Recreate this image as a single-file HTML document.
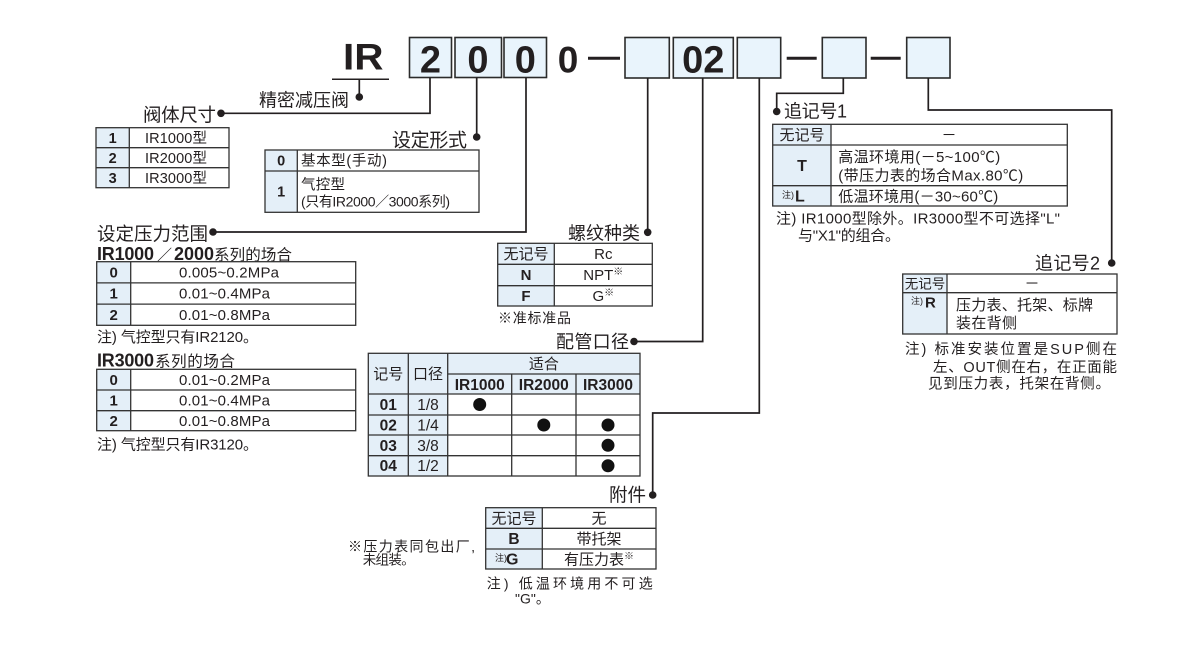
<!DOCTYPE html>
<html><head><meta charset="utf-8">
<style>
html,body{margin:0;padding:0;background:#fff;}
svg{display:block}
text{font-family:"Liberation Sans","Noto Sans CJK SC",sans-serif;fill:#231f20;}
.b{font-weight:bold}
.ln{stroke:#231f20;stroke-width:1.7;fill:none}
.tb{stroke:#333;stroke-width:1.3;fill:none}
.bl{fill:#e4eff8}
.m{text-anchor:middle}
.e{text-anchor:end}
</style></head><body>
<svg width="1200" height="650" viewBox="0 0 1200 650" xmlns="http://www.w3.org/2000/svg">
<rect width="1200" height="650" fill="#fff"/>

<!-- Header -->
<text x="343" y="69.5" font-size="37" class="b" textLength="40.5" lengthAdjust="spacingAndGlyphs">IR</text>
<line x1="332" y1="79.3" x2="389" y2="79.3" stroke="#231f20" stroke-width="1.5"/>

<g fill="#e9f4fc" stroke="#2b2b2b" stroke-width="1.6">
<rect x="409.5" y="37.5" width="42" height="40"/>
<rect x="455" y="37.5" width="46.5" height="40"/>
<rect x="504" y="37.5" width="42.5" height="40"/>
<rect x="625" y="37.5" width="44.3" height="40.5"/>
<rect x="673.3" y="37.5" width="60" height="40.5"/>
<rect x="737.3" y="37.5" width="43.4" height="40.5"/>
<rect x="822.3" y="37.5" width="43.7" height="40.5"/>
<rect x="906.7" y="37.5" width="43.3" height="40.5"/>
</g>
<text x="430.5" y="72.5" font-size="38" class="b m">2</text>
<text x="478" y="72.5" font-size="38" class="b m">0</text>
<text x="525.3" y="72.5" font-size="38" class="b m">0</text>
<text x="568" y="72.5" font-size="37" class="b m">0</text>
<text x="703.3" y="72.5" font-size="38" class="b m">02</text>
<g stroke="#231f20" stroke-width="3">
<line x1="588" y1="58.3" x2="620" y2="58.3"/>
<line x1="786.7" y1="58.3" x2="816.7" y2="58.3"/>
<line x1="870.7" y1="58.3" x2="900.7" y2="58.3"/>
</g>

<!-- Connectors -->
<path class="ln" d="M359.3,79.3V97"/>
<path class="ln" d="M430,77.5V113.3H221"/>
<path class="ln" d="M476.7,77.5V137"/>
<path class="ln" d="M526,77.5V232H213"/>
<path class="ln" d="M647.7,78V232.3"/>
<path class="ln" d="M702.7,78V341.5H634"/>
<path class="ln" d="M759.3,78V413H652.7V495"/>
<path class="ln" d="M843.3,78V93.3H776.7V111.5"/>
<path class="ln" d="M928.3,78V110H1111.7V263"/>
<g fill="#231f20">
<circle cx="359.3" cy="97" r="3.8"/>
<circle cx="221" cy="113.3" r="3.8"/>
<circle cx="476.7" cy="137" r="3.8"/>
<circle cx="213" cy="232" r="3.8"/>
<circle cx="647.7" cy="232.3" r="3.8"/>
<circle cx="634" cy="341.5" r="3.8"/>
<circle cx="652.7" cy="495" r="3.8"/>
<circle cx="776.7" cy="111.5" r="3.8"/>
<circle cx="1111.7" cy="263" r="3.8"/>
</g>

<!-- Labels -->
<text x="349" y="106.5" font-size="18" class="e" textLength="90">精密减压阀</text>
<text x="216" y="121.5" font-size="18.5" class="e" textLength="73">阀体尺寸</text>
<text x="467" y="146.5" font-size="19" class="e" textLength="75">设定形式</text>
<text x="97" y="240.5" font-size="18.5" textLength="111">设定压力范围</text>
<text x="640" y="239.5" font-size="18" class="e" textLength="72">螺纹种类</text>
<text x="629" y="348" font-size="18" class="e" textLength="73">配管口径</text>
<text x="646" y="501.5" font-size="18.5" class="e" textLength="37">附件</text>
<text x="784" y="117.5" font-size="18" textLength="63">追记号1</text>
<text x="1035" y="269.5" font-size="18" textLength="65">追记号2</text>

<!-- Table: 阀体尺寸 -->
<rect class="bl" x="96" y="127.7" width="33.3" height="60"/>
<rect class="tb" x="96" y="127.7" width="133" height="60"/>
<path class="tb" d="M96,147.7H229M96,167.7H229M129.3,127.7V187.7"/>
<text x="112.7" y="142.8" font-size="14.5" class="b m">1</text>
<text x="112.7" y="162.8" font-size="14.5" class="b m">2</text>
<text x="112.7" y="182.8" font-size="14.5" class="b m">3</text>
<text x="145" y="142.8" font-size="14.5" textLength="62">IR1000型</text>
<text x="145" y="162.8" font-size="14.5" textLength="62">IR2000型</text>
<text x="145" y="182.8" font-size="14.5" textLength="62">IR3000型</text>

<!-- Table: 设定形式 -->
<rect class="bl" x="265" y="150" width="32.3" height="62.3"/>
<rect class="tb" x="265" y="150" width="214" height="62.3"/>
<path class="tb" d="M265,171H479M297.3,150V212.3"/>
<text x="281.2" y="165.5" font-size="14.5" class="b m">0</text>
<text x="281.2" y="196.7" font-size="14.5" class="b m">1</text>
<text x="301" y="165.5" font-size="14.5" textLength="86">基本型(手动)</text>
<text x="301" y="189.5" font-size="14.5" textLength="44">气控型</text>
<text x="301" y="206.7" font-size="14" textLength="149">(只有IR2000／3000系列)</text>

<!-- Pressure range -->
<text x="97" y="260" font-size="18" class="b" textLength="57">IR1000</text>
<text x="157" y="260" font-size="15">／</text>
<text x="174" y="260" font-size="18" class="b" textLength="40">2000</text>
<text x="214" y="260" font-size="15.5" textLength="78">系列的场合</text>
<rect class="bl" x="96.7" y="261.7" width="34" height="63.6"/>
<rect class="tb" x="96.7" y="261.7" width="259" height="63.6"/>
<path class="tb" d="M96.7,282.9H355.7M96.7,304.1H355.7M130.7,261.7V325.3"/>
<text x="113.7" y="277.5" font-size="15" class="b m">0</text>
<text x="113.7" y="298.7" font-size="15" class="b m">1</text>
<text x="113.7" y="319.9" font-size="15" class="b m">2</text>
<text x="179" y="277.5" font-size="15" textLength="100">0.005~0.2MPa</text>
<text x="179" y="298.7" font-size="15" textLength="91">0.01~0.4MPa</text>
<text x="179" y="319.9" font-size="15" textLength="91">0.01~0.8MPa</text>
<text x="97" y="342" font-size="15" textLength="161">注) 气控型只有IR2120。</text>

<text x="97" y="366.5" font-size="18" class="b" textLength="57">IR3000</text>
<text x="155" y="366.5" font-size="15.5" textLength="80">系列的场合</text>
<rect class="bl" x="96.7" y="369.3" width="34" height="61.4"/>
<rect class="tb" x="96.7" y="369.3" width="259" height="61.4"/>
<path class="tb" d="M96.7,390H355.7M96.7,410.7H355.7M130.7,369.3V430.7"/>
<text x="113.7" y="384.9" font-size="15" class="b m">0</text>
<text x="113.7" y="405.6" font-size="15" class="b m">1</text>
<text x="113.7" y="425.9" font-size="15" class="b m">2</text>
<text x="179" y="384.9" font-size="15" textLength="91">0.01~0.2MPa</text>
<text x="179" y="405.6" font-size="15" textLength="91">0.01~0.4MPa</text>
<text x="179" y="425.9" font-size="15" textLength="91">0.01~0.8MPa</text>
<text x="97" y="449.5" font-size="15" textLength="161">注) 气控型只有IR3120。</text>

<!-- Table: 螺纹种类 -->
<rect class="bl" x="497.7" y="243.3" width="56.6" height="62.7"/>
<rect class="tb" x="497.7" y="243.3" width="154.6" height="62.7"/>
<path class="tb" d="M497.7,264.3H652.3M497.7,285.7H652.3M554.3,243.3V306"/>
<text x="526" y="259" font-size="15" class="m">无记号</text>
<text x="526" y="280.2" font-size="15" class="b m">N</text>
<text x="526" y="301" font-size="15" class="b m">F</text>
<text x="603.3" y="259" font-size="15" class="m">Rc</text>
<text x="603.3" y="280.2" font-size="15" class="m">NPT<tspan font-size="10" dy="-5">※</tspan></text>
<text x="603.3" y="301" font-size="15" class="m">G<tspan font-size="10" dy="-5">※</tspan></text>
<text x="498" y="323" font-size="14" textLength="73">※准标准品</text>

<!-- Table: 配管口径 -->
<rect class="bl" x="368.3" y="353.3" width="271.7" height="40.7"/>
<rect class="bl" x="368.3" y="394" width="79.4" height="82"/>
<rect class="tb" x="368.3" y="353.3" width="271.7" height="122.7"/>
<path class="tb" d="M447.7,374H640M368.3,394H640M368.3,415H640M368.3,435H640M368.3,455.7H640M408.3,353.3V476M447.7,353.3V476M511.7,374V476M576,374V476"/>
<text x="388.3" y="379" font-size="15" class="m">记号</text>
<text x="428" y="379" font-size="15" class="m">口径</text>
<text x="543.9" y="369" font-size="15" class="m">适合</text>
<text x="479.7" y="389.8" font-size="15.5" class="b m">IR1000</text>
<text x="543.8" y="389.8" font-size="15.5" class="b m">IR2000</text>
<text x="608" y="389.8" font-size="15.5" class="b m">IR3000</text>
<text x="388.3" y="410" font-size="15.5" class="b m">01</text>
<text x="388.3" y="430.5" font-size="15.5" class="b m">02</text>
<text x="388.3" y="450.8" font-size="15.5" class="b m">03</text>
<text x="388.3" y="471" font-size="15.5" class="b m">04</text>
<text x="428" y="410" font-size="15.5" class="m">1/8</text>
<text x="428" y="430.5" font-size="15.5" class="m">1/4</text>
<text x="428" y="450.8" font-size="15.5" class="m">3/8</text>
<text x="428" y="471" font-size="15.5" class="m">1/2</text>
<g fill="#111">
<circle cx="479.7" cy="404.5" r="6.5"/>
<circle cx="543.8" cy="425" r="6.5"/>
<circle cx="608" cy="425" r="6.5"/>
<circle cx="608" cy="445.3" r="6.5"/>
<circle cx="608" cy="465.8" r="6.5"/>
</g>

<!-- Table: 附件 -->
<rect class="bl" x="485.7" y="507.7" width="56.6" height="61.3"/>
<rect class="tb" x="485.7" y="507.7" width="170.3" height="61.3"/>
<path class="tb" d="M485.7,528.3H656M485.7,549H656M542.3,507.7V569"/>
<text x="514" y="523.3" font-size="15" class="m">无记号</text>
<text x="514" y="544" font-size="15.5" class="b m">B</text>
<text x="495" y="561" font-size="9">注)</text>
<text x="506" y="564.5" font-size="16" class="b">G</text>
<text x="599" y="523.3" font-size="15" class="m">无</text>
<text x="599" y="544" font-size="15" class="m">带托架</text>
<text x="599" y="564.3" font-size="15" class="m">有压力表<tspan font-size="10" dy="-5">※</tspan></text>
<text x="348" y="551.5" font-size="14" textLength="127">※压力表同包出厂,</text>
<text x="362.7" y="564.5" font-size="13.5" textLength="52">未组装。</text>
<text x="486.7" y="588.5" font-size="14" textLength="166">注) 低温环境用不可选</text>
<text x="515" y="603.5" font-size="14">"G"。</text>

<!-- Table: 追记号1 -->
<rect class="bl" x="772.7" y="124.3" width="58.3" height="81.7"/>
<rect class="tb" x="772.7" y="124.3" width="294.6" height="81.7"/>
<path class="tb" d="M772.7,145H1067.3M772.7,185.7H1067.3M831,124.3V206"/>
<text x="802" y="140" font-size="15" class="m">无记号</text>
<text x="949" y="140" font-size="15" class="m">－</text>
<text x="802" y="171" font-size="16" class="b m">T</text>
<text x="838.3" y="162" font-size="15" textLength="162">高温环境用(－5~100℃)</text>
<text x="838.3" y="180.5" font-size="15" textLength="185">(带压力表的场合Max.80℃)</text>
<text x="782" y="198" font-size="9">注)</text>
<text x="795" y="201.5" font-size="16" class="b">L</text>
<text x="838.3" y="201.3" font-size="15" textLength="160">低温环境用(－30~60℃)</text>
<text x="776" y="223.5" font-size="15" textLength="284">注) IR1000型除外。IR3000型不可选择"L"</text>
<text x="798" y="240.5" font-size="15" textLength="102">与"X1"的组合。</text>

<!-- Table: 追记号2 -->
<rect class="bl" x="902.7" y="274" width="44.3" height="60"/>
<rect class="tb" x="902.7" y="274" width="214.3" height="60"/>
<path class="tb" d="M902.7,292.7H1117M947,274V334"/>
<text x="925" y="288.3" font-size="13.5" class="m">无记号</text>
<text x="1032" y="288.3" font-size="15" class="m">－</text>
<text x="911" y="304" font-size="9">注)</text>
<text x="925" y="307.5" font-size="15" class="b">R</text>
<text x="956" y="310" font-size="15" textLength="137">压力表、托架、标牌</text>
<text x="956" y="328" font-size="15" textLength="61">装在背侧</text>
<text x="905" y="354" font-size="14.5" textLength="212">注) 标准安装位置是SUP侧在</text>
<text x="933" y="372" font-size="14.5" textLength="184">左、OUT侧在右，在正面能</text>
<text x="928" y="388.5" font-size="14.5" textLength="182">见到压力表，托架在背侧。</text>
</svg>
</body></html>
